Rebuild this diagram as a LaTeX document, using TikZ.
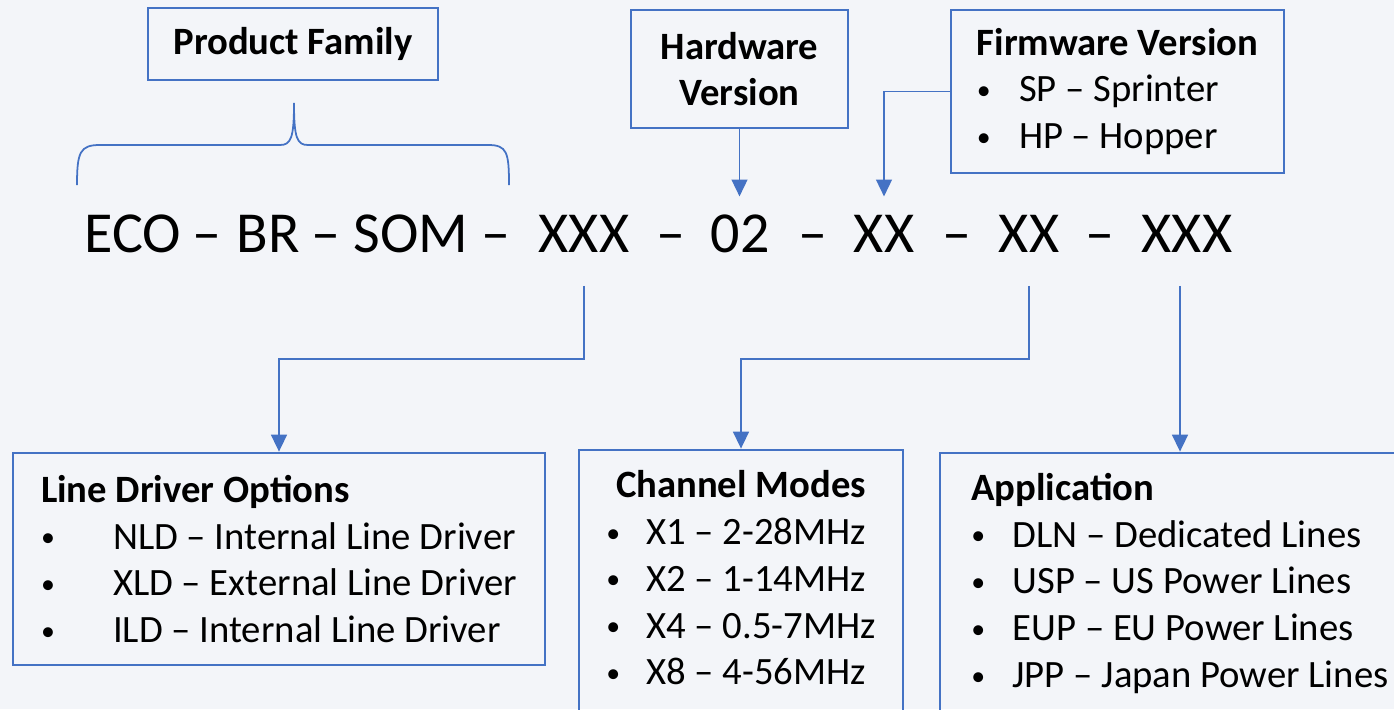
\documentclass[tikz,border=0pt]{standalone}
\usepackage{fontspec}
\usepackage{graphicx}
\setmainfont{Carlito}
\usetikzlibrary{arrows.meta}
\definecolor{pagebg}{HTML}{F3F5F9}
\definecolor{boxblue}{HTML}{4472C4}
\newcommand{\diagfont}{\fontsize{11}{13.3}\selectfont}
\newcommand{\bul}[1]{\makebox[#1][l]{\raisebox{0.7pt}{\scalebox{0.72}{\textbullet}}}}
\tikzset{
    box/.style={draw=boxblue, line width=0.75pt, inner sep=0pt, font=\diagfont},
    code/.style={inner sep=0pt, anchor=base, text height=15.6pt, text depth=9.4pt,
        font=\fontsize{16.5}{20}\selectfont},
    conn/.style={draw=boxblue, line width=0.5pt},
    arr/.style={conn, -{Triangle[width=4.5pt,length=4.8pt]}}
}
\begin{document}
\begin{tikzpicture}[x=0.01cm, y=-0.01cm]
            \useasboundingbox (0,0) rectangle (1394,709);
            \fill[pagebg] (0,0) rectangle (1394,709);
            \clip (0,0) rectangle (1394,709);
            \foreach \nm/\txt/\px in {eco/ECO/133, da/–/207, br/BR/268, db/–/326, som/SOM/411,
                dc/–/496, ldx/XXX/584, dd/–/671, hwx/02/740, de/–/813, fwx/XX/884,
                df/–/957, chx/XX/1029, dg/–/1100, apx/XXX/1187}
                \node[code] (\nm) at (\px,252) {\txt};
            \node[box, minimum width=2.90cm, minimum height=0.72cm, font=\diagfont\bfseries]
                (pfbox) at (293,44) {Product Family};
            \node[box, minimum width=2.17cm, minimum height=1.18cm, align=center,
                font=\diagfont\bfseries] (hwbox) at (739.5,69) {Hardware\\Version};
            \node[box, minimum width=3.33cm, minimum height=1.63cm, align=left]
                (fwbox) at (1117.5,91.5)
                {\textbf{Firmware Version}\\\bul{12pt}SP – Sprinter\\\bul{12pt}HP – Hopper};
            \node[box, minimum width=5.32cm, minimum height=2.12cm, align=left]
                (ldbox) at (279,559)
                {\textbf{Line Driver Options}\\
                 \bul{20.5pt}NLD – Internal Line Driver\\
                 \bul{20.5pt}XLD – External Line Driver\\
                 \bul{20.5pt}ILD – Internal Line Driver};
            \node[box, minimum width=3.24cm, minimum height=2.64cm]
                (chbox) at (741,582)
                {\begin{tabular}{@{}l@{}}
                 \multicolumn{1}{@{}c@{}}{\textbf{Channel Modes}}\\
                 \bul{11.4pt}X1 – 2-28MHz\\
                 \bul{11.4pt}X2 – 1-14MHz\\
                 \bul{11.4pt}X4 – 0.5-7MHz\\
                 \bul{11.4pt}X8 – 4-56MHz
                 \end{tabular}};
            \node[box, minimum width=4.80cm, minimum height=2.61cm, align=left]
                (apbox) at (1180,583.5)
                {\textbf{Application}\\
                 \bul{11.7pt}DLN – Dedicated Lines\\
                 \bul{11.7pt}USP – US Power Lines\\
                 \bul{11.7pt}EUP – EU Power Lines\\
                 \bul{11.7pt}JPP – Japan Power Lines};
            \draw[conn] (77,185) .. controls (77,152) and (80,145) .. (100,145) -- (280,145)
                .. controls (291,145) and (294,138) .. (294,103)
                .. controls (294,138) and (297,145) .. (308,145) -- (488,145)
                .. controls (507,145) and (509,152) .. (509,185);
            \draw[arr] (hwbox.south) -- (hwbox.south |- hwx.north);
            \draw[arr] (fwbox.west) -| (fwx.north);
            \draw[arr] (ldx.south) -- ++(0,73) -| (ldbox.north);
            \draw[arr] (chx.south) -- ++(0,73) -| (chbox.north);
            \draw[arr] (apbox.north |- apx.south) -- (apbox.north);
\end{tikzpicture}
\end{document}
